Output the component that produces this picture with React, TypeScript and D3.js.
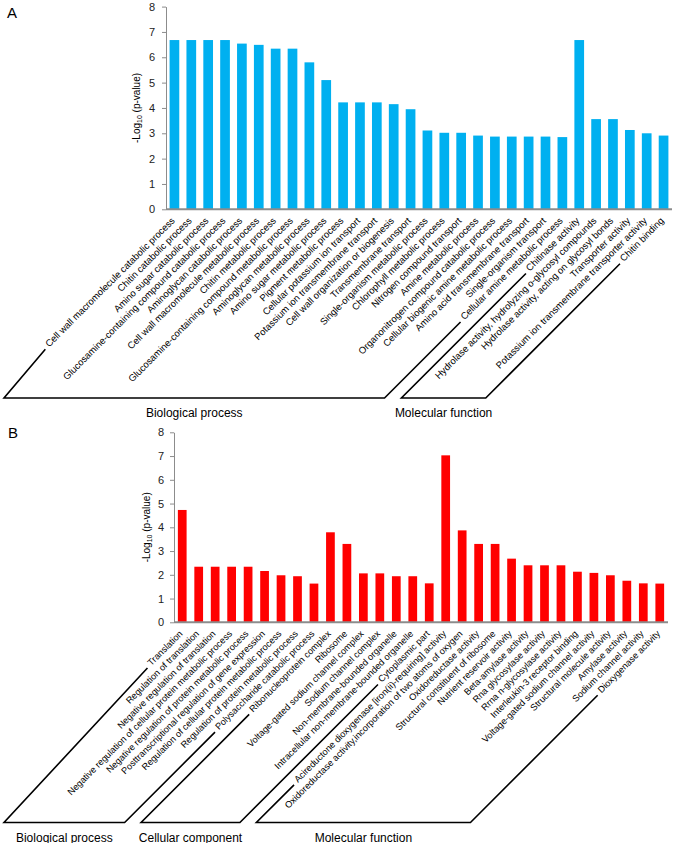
import React, { useEffect, useRef } from 'react';
import * as d3 from 'd3';

const categoriesA = [
  'Cell wall macromolecule catabolic process',
  'Chitin catabolic process',
  'Amino sugar catabolic process',
  'Glucosamine-containing compound catabolic process',
  'Aminoglycan catabolic process',
  'Cell wall macromolecule metabolic process',
  'Chitin metabolic process',
  'Glucosamine-containing compound metabolic process',
  'Aminoglycan metabolic process',
  'Amino sugar metabolic process',
  'Pigment metabolic process',
  'Cellular potassium ion transport',
  'Potassium ion transmembrane transport',
  'Cell wall organization or biogenesis',
  'Transmembrane transport',
  'Single-organism metabolic process',
  'Chlorophyll metabolic process',
  'Nitrogen compound transport',
  'Amine metabolic process',
  'Organonitrogen compound catabolic process',
  'Cellular biogenic amine metabolic process',
  'Amino acid transmembrane transport',
  'Single-organism transport',
  'Cellular amine metabolic process',
  'Chitinase activity',
  'Hydrolase activity, hydrolyzing o-glycosyl compounds',
  'Hydrolase activity, acting on glycosyl bonds',
  'Transporter activity',
  'Potassium ion transmembrane transporter activity',
  'Chitin binding',
];
const valuesA = [
  6.68, 6.68, 6.68, 6.68, 6.54, 6.49, 6.34, 6.34, 5.8, 5.1,
  4.22, 4.22, 4.22, 4.15, 3.95, 3.11, 3.02, 3.02, 2.91, 2.87,
  2.87, 2.87, 2.87, 2.85, 6.68, 3.56, 3.56, 3.13, 3.0, 2.91,
];
const groupNamesA = ['Biological process', 'Molecular function'];
const groupStartA = [0, 24];
const groupEndA = [23, 29];

const categoriesB = [
  'Translation',
  'Regulation of translation',
  'Negative regulation of translation',
  'Negative regulation of cellular protein metabolic process',
  'Negative regulation of protein metabolic process',
  'Posttranscriptional regulation of gene expression',
  'Regulation of cellular protein metabolic process',
  'Regulation of protein metabolic process',
  'Polysaccharide catabolic process',
  'Ribonucleoprotein complex',
  'Ribosome',
  'Voltage-gated sodium channel complex',
  'Sodium channel complex',
  'Non-membrane-bounded organelle',
  'Intracellular non-membrane-bounded organelle',
  'Cytoplasmic part',
  'Acireductone dioxygenase [iron(ii)-requiring] activity',
  'Oxidoreductase activity,incorporation of two atoms of oxygen',
  'Oxidoreductase activity',
  'Structural constituent of ribosome',
  'Nutrient reservoir activity',
  'Beta-amylase activity',
  'Rna glycosylase activity',
  'Rrna n-glycosylase activity',
  'Interleukin-3 receptor binding',
  'Voltage-gated sodium channel activity',
  'Structural molecule activity',
  'Amylase activity',
  'Sodium channel activity',
  'Dioxygenase activity',
];
const valuesB = [
  4.73, 2.34, 2.34, 2.34, 2.34, 2.16, 1.98, 1.94, 1.63, 3.79,
  3.3, 2.06, 2.06, 1.94, 1.94, 1.64, 7.03, 3.87, 3.3, 3.3,
  2.68, 2.4, 2.4, 2.4, 2.13, 2.08, 1.98, 1.75, 1.64, 1.63,
];
const groupNamesB = ['Biological process', 'Cellular component', 'Molecular function'];
const groupStartB = [0, 9, 16];
const groupEndB = [8, 15, 29];

const yTicks = [0, 1, 2, 3, 4, 5, 6, 7, 8];

const FONT = "'Liberation Sans', Arial, Helvetica, sans-serif";

interface PanelCfg {
  letter: string;
  letterX: number;
  letterY: number;
  cats: string[];
  values: number[];
  gNames: string[];
  gStart: number[];
  gEnd: number[];
  color: string;
  x0: number;
  x1: number;
  yTop: number;
  yBottom: number;
  pad: number;
  labelSize: number;
  titleX: number;
  tickPad: number;
  bracketY: number;
}

function drawPanel(svg: d3.Selection<SVGSVGElement, unknown, null, undefined>, c: PanelCfg) {
  const g = svg.append('g');
  const x = d3
    .scaleBand<number>()
    .domain(c.cats.map((_, i) => i))
    .range([c.x0, c.x1])
    .paddingInner(c.pad)
    .paddingOuter(c.pad / 2);
  const y = d3.scaleLinear().domain([0, 8]).range([c.yBottom, c.yTop]);

  // panel letter
  g.append('text')
    .attr('x', c.letterX)
    .attr('y', c.letterY)
    .attr('font-family', FONT)
    .attr('font-size', 15)
    .attr('fill', '#000')
    .text(c.letter);

  // bars
  g.selectAll('rect.bar')
    .data(c.values)
    .join('rect')
    .attr('class', 'bar')
    .attr('x', (_, i) => x(i) as number)
    .attr('y', (d) => y(d))
    .attr('width', x.bandwidth())
    .attr('height', (d) => y(0) - y(d))
    .attr('fill', c.color);

  // y axis
  const yAxis = d3
    .axisLeft(y)
    .tickValues(yTicks)
    .tickFormat(d3.format('d'))
    .tickSizeInner(4)
    .tickSizeOuter(0)
    .tickPadding(c.tickPad);
  const ya = g.append('g').attr('transform', `translate(${c.x0},0)`).call(yAxis);
  ya.select('.domain').attr('stroke', '#8c8c8c').attr('stroke-width', 1);
  ya.selectAll('.tick line').attr('stroke', '#8c8c8c');
  ya.selectAll('.tick text')
    .attr('font-family', FONT)
    .attr('font-size', 11)
    .attr('fill', '#222');

  // x axis baseline
  g.append('line')
    .attr('x1', c.x0)
    .attr('x2', c.x1)
    .attr('y1', y(0))
    .attr('y2', y(0))
    .attr('stroke', '#8c8c8c')
    .attr('stroke-width', 2);

  // y title
  const tt = g
    .append('text')
    .attr('transform', `translate(${c.titleX},${(c.yTop + c.yBottom) / 2}) rotate(-90)`)
    .attr('text-anchor', 'middle')
    .attr('font-family', FONT)
    .attr('font-size', 10)
    .attr('fill', '#000');
  tt.append('tspan').text('-Log');
  tt.append('tspan').attr('font-size', 7).attr('dy', 2).text('10');
  tt.append('tspan').attr('dy', -2).text(' (p-value)');

  // category labels
  const S = Math.SQRT1_2;
  const ax = (i: number) => (x(i) as number) + x.bandwidth() / 2 + 1;
  const ay = y(0) + 12;
  const labels = g
    .selectAll('text.cat')
    .data(c.cats)
    .join('text')
    .attr('class', 'cat')
    .attr('transform', (_, i) => `translate(${ax(i)},${ay}) rotate(-45)`)
    .attr('text-anchor', 'end')
    .attr('font-family', FONT)
    .attr('font-size', c.labelSize)
    .attr('fill', '#000')
    .text((d) => d);

  const lens: number[] = [];
  labels.each(function () {
    lens.push((this as SVGTextElement).getComputedTextLength());
  });

  const gap = 4;
  const shift = 1.5;
  const topPt = (i: number): [number, number] => {
    const L = lens[i] + gap;
    return [ax(i) - L * S - shift * S, ay + L * S - shift * S];
  };
  const bottomPt = (p: [number, number]): [number, number] => {
    const bx = Math.max(4, p[0] - (c.bracketY - p[1]));
    return [bx, c.bracketY];
  };

  c.gNames.forEach((name, k) => {
    const lt = topPt(c.gStart[k]);
    const rt = topPt(c.gEnd[k]);
    const lb = bottomPt(lt);
    const rb = bottomPt(rt);
    const path = d3.path();
    path.moveTo(lt[0], lt[1]);
    path.lineTo(lb[0], lb[1]);
    path.lineTo(rb[0], rb[1]);
    path.lineTo(rt[0], rt[1]);
    g.append('path')
      .attr('d', path.toString())
      .attr('fill', 'none')
      .attr('stroke', '#000')
      .attr('stroke-width', 1.6)
      .attr('stroke-linejoin', 'miter');
    g.append('text')
      .attr('x', (lb[0] + rb[0]) / 2)
      .attr('y', c.bracketY + 19)
      .attr('text-anchor', 'middle')
      .attr('font-family', FONT)
      .attr('font-size', 12)
      .attr('fill', '#000')
      .text(name);
  });
}

export default function App() {
  const ref = useRef<SVGSVGElement>(null);
  useEffect(() => {
    if (!ref.current) return;
    const svg = d3.select(ref.current);
    svg.selectAll('*').remove();
    drawPanel(svg, {
      letter: 'A',
      letterX: 7,
      letterY: 18,
      cats: categoriesA,
      values: valuesA,
      gNames: groupNamesA,
      gStart: groupStartA,
      gEnd: groupEndA,
      color: '#00B0F0',
      x0: 166,
      x1: 672,
      yTop: 6.6,
      yBottom: 209.3,
      pad: 0.425,
      labelSize: 9.5,
      titleX: 140,
      tickPad: 7,
      bracketY: 398,
    });
    drawPanel(svg, {
      letter: 'B',
      letterX: 8,
      letterY: 438,
      cats: categoriesB,
      values: valuesB,
      gNames: groupNamesB,
      gStart: groupStartB,
      gEnd: groupEndB,
      color: '#FF0000',
      x0: 174,
      x1: 668,
      yTop: 432.3,
      yBottom: 622.3,
      pad: 0.47,
      labelSize: 9.2,
      titleX: 150,
      tickPad: 6,
      bracketY: 822.5,
    });
  }, []);
  return (
    <svg
      ref={ref}
      width={675}
      height={843}
      style={{ position: 'absolute', left: 0, top: 0, background: '#fff' }}
    />
  );
}
